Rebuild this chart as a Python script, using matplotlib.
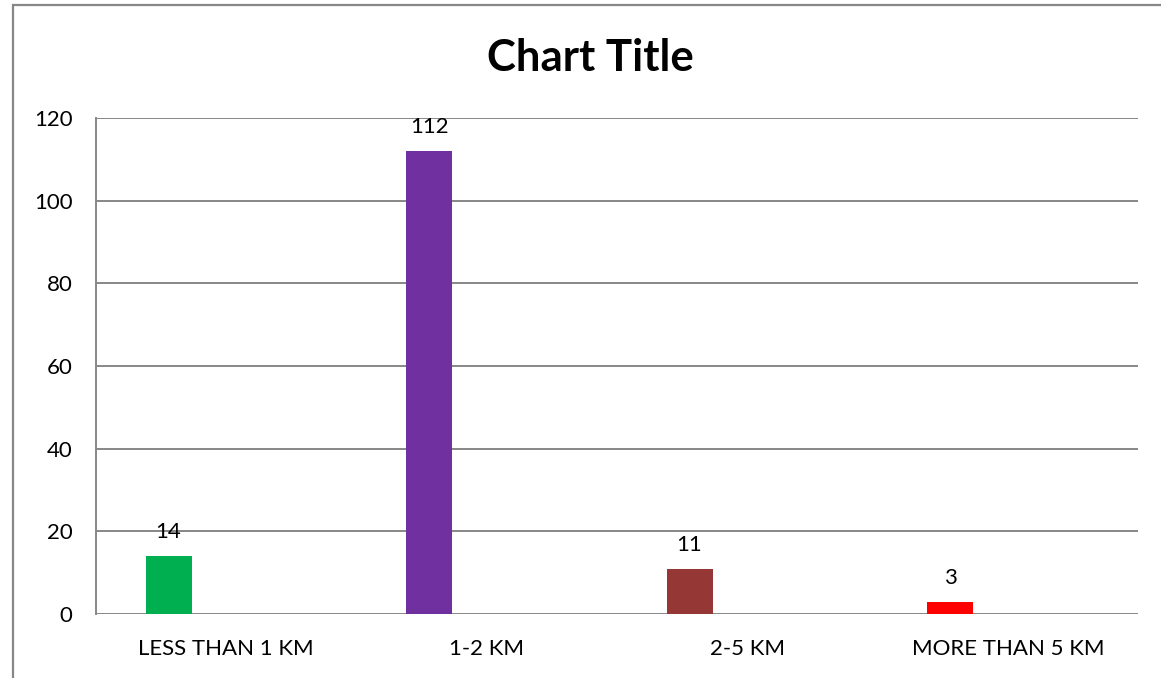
import matplotlib
matplotlib.use("Agg")
import matplotlib.pyplot as plt
from matplotlib.patches import Rectangle
import numpy as np

categories = ["LESS THAN 1 KM", "1-2 KM", "2-5 KM", "MORE THAN 5 KM"]
values = [14, 112, 11, 3]
colors = ["#00B050", "#7030A0", "#953735", "#FF0000"]
title = "Chart Title"
yticks = [0, 20, 40, 60, 80, 100, 120]

plt.rcParams['font.family'] = ['Lato', 'DejaVu Sans']

fig = plt.figure(figsize=(11.61, 6.78), dpi=100)
fig.patch.set_facecolor("white")

# outer chart border (extends past right/bottom edges)
fig.patches.append(Rectangle((13/1161, -0.05), 1.2, (678-5)/678 + 0.05,
                             transform=fig.transFigure, fill=False,
                             edgecolor="#878787", linewidth=1.6))

ax = fig.add_axes([96/1161, (678-614)/678, (1138-96)/1161, (614-118)/678])
x = np.arange(len(categories))
bw = 0.1766
off = -0.2215
ax.bar(x + off, values, width=bw, color=colors, zorder=3)

for xi, v in zip(x, values):
    ax.annotate(str(v), (xi + off, v), xytext=(0, 10), textcoords="offset points",
                ha="center", va="bottom", fontsize=16, color="black", zorder=4)

ax.set_xlim(-0.5, len(categories) - 0.5)
ax.set_ylim(0, 120)
ax.set_yticks(yticks)
ax.set_yticklabels([str(t) for t in yticks], fontsize=16)
ax.set_xticks(x)
ax.set_xticklabels(categories, fontsize=16)
ax.tick_params(axis="x", length=0, pad=18)
ax.tick_params(axis="y", length=0, pad=17)
ax.yaxis.grid(True, color="#878787", linewidth=1.4, zorder=0)
for s in ["top", "right", "bottom"]:
    ax.spines[s].set_visible(False)
ax.spines["left"].set_color("#878787")
ax.spines["left"].set_linewidth(1.4)

fig.text(590/1161, 1 - 58/678, title, ha="center", va="center",
         fontsize=31.5, fontweight="bold", color="black")

fig.savefig("out.png", dpi=100, facecolor="white")
